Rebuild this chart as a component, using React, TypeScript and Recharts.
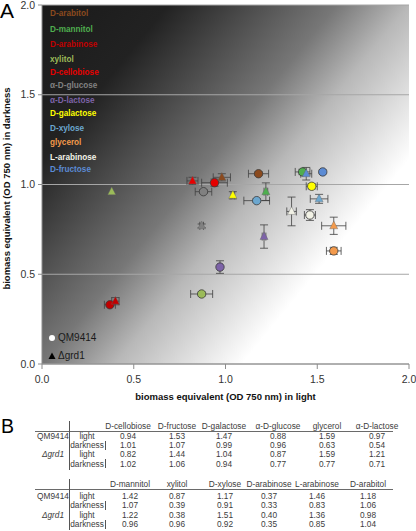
import { ScatterChart, Scatter, XAxis, YAxis, CartesianGrid, ErrorBar } from 'recharts';

// carbon sources, in table order (first six = table 1, last six = table 2)
const sugars = [
  'D-cellobiose', 'D-fructose', 'D-galactose', 'α-D-glucose', 'glycerol', 'α-D-lactose',
  'D-mannitol', 'xylitol', 'D-xylose', 'D-arabinose', 'L-arabinose', 'D-arabitol',
];

// QM9414 (circles)
const qmLight = [0.94, 1.53, 1.47, 0.88, 1.59, 0.97, 1.42, 0.87, 1.17, 0.37, 1.46, 1.18];
const qmDark = [1.01, 1.07, 0.99, 0.96, 0.63, 0.54, 1.07, 0.39, 0.91, 0.33, 0.83, 1.06];
const qmLightErr = [0.07, 0.01, 0.03, 0.045, 0.04, 0.01, 0.04, 0.06, 0.07, 0.03, 0.03, 0.055];
const qmDarkErr = [0.02, 0.01, 0.015, 0.01, 0.02, 0.035, 0.015, 0.01, 0.01, 0.01, 0.03, 0.01];

// Δgrd1 (triangles)
const grdLight = [0.82, 1.44, 1.04, 0.87, 1.59, 1.21, 1.22, 0.38, 1.51, 0.40, 1.36, 0.98];
const grdDark = [1.02, 1.06, 0.94, 0.77, 0.77, 0.71, 0.96, 0.96, 0.92, 0.35, 0.85, 1.04];
const grdLightErr = [0.03, 0.03, 0.01, 0.01, 0.066, 0.01, 0.01, 0, 0.048, 0.02, 0.026, 0.047];
const grdDarkErr = [0.02, 0.035, 0.02, 0.01, 0.048, 0.065, 0.049, 0, 0.025, 0.02, 0.08, 0.02];

const sugarColors = [
  '#e60000', '#5b8bd4', '#ffff00', '#808080', '#f39a4c', '#7d63a8',
  '#4fae4f', '#9bbb59', '#6ca7cf', '#c00000', '#f2f2e6', '#8b4a1e',
];

// order of the coloured names in the top-left corner
const legendOrder = [
  'D-arabitol', 'D-mannitol', 'D-arabinose', 'xylitol', 'D-cellobiose', 'α-D-glucose',
  'α-D-lactose', 'D-galactose', 'D-xylose', 'glycerol', 'L-arabinose', 'D-fructose',
];
const legendY = [13.5, 30, 45, 59.5, 73, 86, 101, 114, 129, 143, 158, 170];

const axisTicks = [0, 0.5, 1, 1.5, 2];

const qmPoints = sugars.map((s, i) => ({
  name: s, x: qmLight[i], y: qmDark[i], ex: qmLightErr[i], ey: qmDarkErr[i], color: sugarColors[i],
}));
const grdPoints = sugars.map((s, i) => ({
  name: s, x: grdLight[i], y: grdDark[i], ex: grdLightErr[i], ey: grdDarkErr[i], color: sugarColors[i],
}));

const FONT = '"Liberation Sans", Arial, sans-serif';

const CircleMark = (props: any) => {
  const { cx, cy, payload } = props;
  return <circle cx={cx} cy={cy} r={4.2} fill={payload.color} stroke="#3a3a3a" strokeWidth={0.8} />;
};

const TriangleMark = (props: any) => {
  const { cx, cy, payload } = props;
  const pts = `${cx},${cy - 4.8} ${cx - 4},${cy + 3} ${cx + 4},${cy + 3}`;
  return <polygon points={pts} fill={payload.color} stroke="#666" strokeWidth={0.4} />;
};

const XTitle = (props: any) => {
  const vb = props.viewBox || { x: 42, y: 364, width: 367 };
  return (
    <text x={vb.x + vb.width / 2} y={vb.y + 36} textAnchor="middle" fontSize={9.5} fontWeight="bold" fill="#111" fontFamily={FONT}>
      biomass equivalent (OD 750 nm) in light
    </text>
  );
};

const YTitle = (props: any) => {
  const vb = props.viewBox || { x: 0, y: 5, height: 359 };
  const cx = 10;
  const cy = vb.y + vb.height / 2 + 4;
  return (
    <text x={cx} y={cy} transform={`rotate(-90, ${cx}, ${cy})`} textAnchor="middle" fontSize={9.5} fontWeight="bold" fill="#111" fontFamily={FONT}>
      biomass equivalent (OD 750 nm) in darkness
    </text>
  );
};

// table layout
const table1Cols = [128, 177, 224, 278, 327, 377];
const table2Cols = [130, 177, 225, 269, 317, 368];
const table1Y = [426, 436, 445, 454, 463.5];
const table2Y = [484, 495.5, 505, 514.5, 524];

function Cell({ x, y, children, italic }: any) {
  return (
    <div
      style={{
        position: 'absolute', top: y, left: x - 40, width: 80, textAlign: 'center',
        fontSize: 8.3, lineHeight: '10px', transform: 'translateY(-50%)',
        color: '#3c3c3c', fontStyle: italic ? 'italic' : 'normal', whiteSpace: 'nowrap',
      }}
    >
      {children}
    </div>
  );
}

function DataTable({ start, cols, ys }: any) {
  const idx = [0, 1, 2, 3, 4, 5].map((k) => start + k);
  const rows = [qmLight, qmDark, grdLight, grdDark];
  return (
    <>
      <div style={{ position: 'absolute', left: 35, top: ys[0] + 4.5, width: 358, height: 1, background: '#6a6a6a' }} />
      <div style={{ position: 'absolute', left: 69, top: ys[0] - 5, width: 1, height: ys[4] - ys[0] + 11, background: '#555' }} />
      {[2, 4].map((r) => (
        <div key={r} style={{ position: 'absolute', left: 105, top: ys[r] - 4.5, width: 1, height: 9, background: '#555' }} />
      ))}
      {idx.map((s, k) => (
        <Cell key={s} x={cols[k]} y={ys[0]}>{sugars[s]}</Cell>
      ))}
      <Cell x={53} y={ys[1]}>QM9414</Cell>
      <Cell x={53} y={ys[3]} italic>Δgrd1</Cell>
      {['light', 'darkness', 'light', 'darkness'].map((l, r) => (
        <Cell key={r} x={87} y={ys[r + 1]}>{l}</Cell>
      ))}
      {rows.map((row, r) =>
        idx.map((s, k) => (
          <Cell key={`${r}-${s}`} x={cols[k]} y={ys[r + 1]}>{row[s].toFixed(2)}</Cell>
        ))
      )}
    </>
  );
}

export default function App() {
  return (
    <div style={{ position: 'absolute', left: 0, top: 0, width: 416, height: 531, background: '#fff', fontFamily: FONT, overflow: 'hidden' }}>
      <ScatterChart width={416} height={410} margin={{ top: 5, right: 7, left: 0, bottom: 0 }}>
        <defs>
          <linearGradient id="plotBg" x1="0" y1="0" x2="1" y2="0.8">
            <stop offset="0" stopColor="#1a1a1a" />
            <stop offset="0.21" stopColor="#222222" />
            <stop offset="0.49" stopColor="#777777" />
            <stop offset="0.61" stopColor="#b8b8b8" />
            <stop offset="0.82" stopColor="#ffffff" />
          </linearGradient>
        </defs>
        <CartesianGrid vertical={false} fill="url(#plotBg)" stroke="#a6a6a6" strokeWidth={1} />
        <XAxis
          type="number"
          dataKey="x"
          domain={[0, 2]}
          ticks={axisTicks}
          tickFormatter={(v) => v.toFixed(1)}
          height={46}
          stroke="#8c8c8c"
          tickSize={5}
          tickMargin={7}
          tick={{ fill: '#333', fontSize: 10.5, fontFamily: FONT }}
          label={<XTitle />}
        />
        <YAxis
          type="number"
          dataKey="y"
          domain={[0, 2]}
          ticks={axisTicks}
          tickFormatter={(v) => v.toFixed(1)}
          width={42}
          stroke="#8c8c8c"
          tickSize={4}
          tickMargin={3}
          tick={{ fill: '#333', fontSize: 10.5, fontFamily: FONT }}
          label={<YTitle />}
        />
        <Scatter name="QM9414" data={qmPoints} shape={CircleMark} isAnimationActive={false}>
          <ErrorBar dataKey="ex" direction="x" width={4} stroke="#404040" strokeWidth={0.8} isAnimationActive={false} />
          <ErrorBar dataKey="ey" direction="y" width={4} stroke="#404040" strokeWidth={0.8} isAnimationActive={false} />
        </Scatter>
        <Scatter name="Δgrd1" data={grdPoints} shape={TriangleMark} isAnimationActive={false}>
          <ErrorBar dataKey="ex" direction="x" width={4} stroke="#404040" strokeWidth={0.8} isAnimationActive={false} />
          <ErrorBar dataKey="ey" direction="y" width={4} stroke="#404040" strokeWidth={0.8} isAnimationActive={false} />
        </Scatter>
      </ScatterChart>

      {/* coloured carbon source names */}
      {legendOrder.map((name, i) => (
        <div
          key={name}
          style={{
            position: 'absolute', left: 50, top: legendY[i], transform: 'translateY(-50%)',
            fontSize: 8.2, fontWeight: 'bold', lineHeight: '10px', whiteSpace: 'nowrap',
            color: sugarColors[sugars.indexOf(name)],
          }}
        >
          {name}
        </div>
      ))}

      {/* strain legend */}
      <div style={{ position: 'absolute', left: 48, top: 332, display: 'flex', alignItems: 'center', fontSize: 10, color: '#1a1a1a' }}>
        <svg width={8} height={8}><circle cx={4} cy={4} r={3} fill="#fff" /></svg>
        <span style={{ marginLeft: 2 }}>QM9414</span>
      </div>
      <div style={{ position: 'absolute', left: 48, top: 350, display: 'flex', alignItems: 'center', fontSize: 10, color: '#1a1a1a' }}>
        <svg width={8} height={8}><polygon points="4,0.5 0.5,7 7.5,7" fill="#000" /></svg>
        <span style={{ marginLeft: 2 }}>Δgrd1</span>
      </div>

      <div style={{ position: 'absolute', left: 0, top: -1, fontSize: 21, lineHeight: '24px', color: '#000' }}>A</div>
      <div style={{ position: 'absolute', left: 1, top: 414, fontSize: 19.5, lineHeight: '24px', color: '#000' }}>B</div>

      <DataTable start={0} cols={table1Cols} ys={table1Y} />
      <DataTable start={6} cols={table2Cols} ys={table2Y} />
    </div>
  );
}
